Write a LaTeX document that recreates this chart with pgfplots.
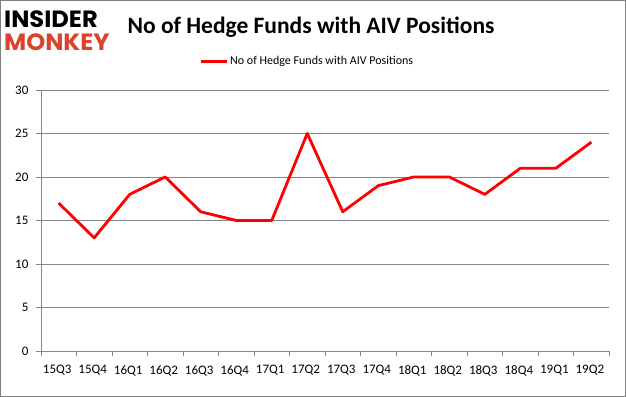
\documentclass[border=0pt]{standalone}
\usepackage{pgfplots}
\pgfplotsset{compat=1.18}
\usepackage{fontspec}
\setmainfont{Carlito}
\newfontfamily\logofont{Poppins}
\definecolor{gridgray}{RGB}{134,134,134}
\definecolor{monkeyred}{RGB}{220,66,44}
\begin{document}
\begin{tikzpicture}[x=1bp,y=1bp]
\draw[gray, line width=0.8bp] (0.5,0.5) rectangle (625.5,396.5);
\node[font=\logofont\bfseries\fontsize{21bp}{21bp}\selectfont, anchor=west, inner sep=0, xscale=1.15, yscale=1.12] at (4,378) {INSIDER};
\node[font=\logofont\bfseries\fontsize{21bp}{21bp}\selectfont, anchor=west, inner sep=0, text=monkeyred, xscale=1.15, yscale=1.12] at (4,355) {MONKEY};
\node[font=\bfseries\fontsize{23.5bp}{23.5bp}\selectfont, inner sep=0, anchor=base] at (311,363) {No of Hedge Funds with AIV Positions};
\begin{axis}[
  at={(41bp,46bp)}, anchor=south west,
  scale only axis, width=568bp, height=261bp,
  xmin=-0.5, xmax=15.5, ymin=0, ymax=30,
  axis x line*=bottom, axis y line*=left,
  axis line style={gridgray, line width=0.8bp},
  xtick={0,...,15},
  xticklabels={15Q3,15Q4,16Q1,16Q2,16Q3,16Q4,17Q1,17Q2,17Q3,17Q4,18Q1,18Q2,18Q3,18Q4,19Q1,19Q2},
  minor xtick={-0.5,0.5,...,15.5},
  ytick={0,5,...,30},
  major x tick style={draw=none},
  minor tick length=5bp, major tick length=5bp,
  tick align=outside,
  every tick/.style={gridgray, line width=0.8bp},
  ymajorgrids, grid style={gridgray, line width=0.8bp},
  tick label style={font=\fontsize{13bp}{13bp}\selectfont},
  xticklabel style={yshift=-6bp, xshift=-1.5bp},
  yticklabel style={xshift=-4bp},
  /pgf/number format/assume math mode=true,
  legend style={at={(0.469,1.109)}, anchor=center, draw=none, font=\fontsize{12bp}{12bp}\selectfont, legend columns=1, inner sep=0pt},
  legend image code/.code={\draw[red, line width=2.5bp] (0bp,0bp) -- (26bp,0bp);},
  clip=false,
]
\addplot[red, line width=2.8bp, line join=round] coordinates {
(0,17) (1,13) (2,18) (3,20) (4,16) (5,15) (6,15) (7,25) (8,16) (9,19) (10,20) (11,20) (12,18) (13,21) (14,21) (15,24)};
\addlegendentry{No of Hedge Funds with AIV Positions}
\end{axis}
\end{tikzpicture}
\end{document}
